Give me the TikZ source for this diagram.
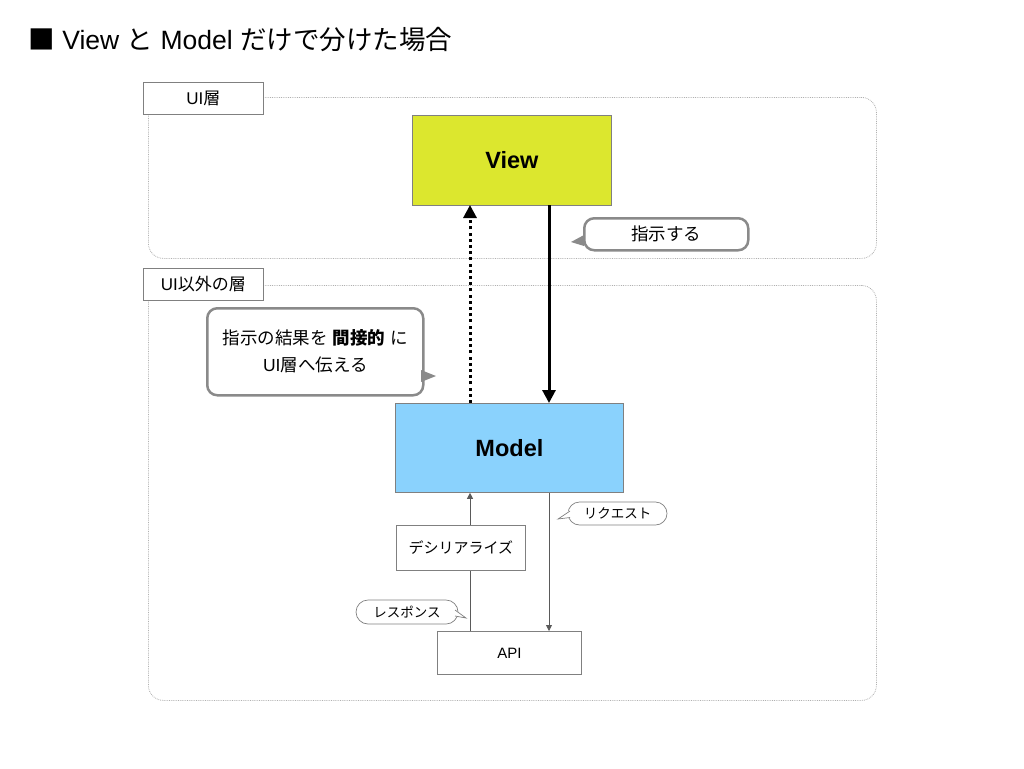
\documentclass[tikz,border=0pt]{standalone}
\usepackage{fontspec}
\setmainfont{Liberation Sans}
\newfontfamily\jp{Noto Sans CJK JP}
\usetikzlibrary{positioning,arrows.meta,shapes.misc}
\definecolor{viewcolor}{HTML}{DCE72E}
\definecolor{modelcolor}{HTML}{8AD2FD}
\definecolor{framecolor}{HTML}{B0B0B0}
\definecolor{boxline}{HTML}{808080}
\definecolor{calloutline}{HTML}{8A8A8A}
\definecolor{flowcolor}{HTML}{5A5A5A}

\begin{document}
\begin{tikzpicture}[
  x=1pt, y=-1pt,
  layer/.style={draw=framecolor, densely dotted, rounded corners=15pt, line width=0.8pt, anchor=north west, inner sep=0pt},
  layertag/.style={draw=boxline, fill=white, line width=0.8pt, anchor=north west, minimum width=120pt, minimum height=32pt, inner sep=0pt, font=\fontsize{17}{20}\selectfont},
  mainbox/.style={draw=boxline, line width=0.8pt, anchor=north west, inner sep=0pt, font=\fontsize{23.5}{28}\selectfont\bfseries},
  stepbox/.style={draw=boxline, fill=white, line width=0.8pt, anchor=north west, inner sep=0pt, font=\fontsize{15}{18}\selectfont},
  bubble/.style={draw=calloutline, fill=white, line width=2.5pt, rounded corners=10pt, anchor=north west, inner sep=0pt, align=center, font=\fontsize{17.5}{27}\selectfont},
  pill/.style={rounded rectangle, draw=boxline, fill=white, line width=0.7pt, inner sep=0pt, font=\fontsize{13.5}{16}\selectfont},
  bigarrow/.style={line width=3pt, -{Triangle[width=13pt,length=13pt]}},
  flow/.style={draw=flowcolor, line width=0.8pt, -{Triangle[width=6pt,length=6pt]}},
]
\useasboundingbox (0,0) rectangle (1024,768);

% Title
\node[anchor=west, font=\fontsize{26.5}{32}\selectfont] (title) at (25,40) {{\jp ■} View {\jp と} Model {\jp だけで分けた場合}};

% Layer frames
\node[layer, minimum width=728pt, minimum height=161pt] (uiframe) at (148,97) {};
\node[layer, minimum width=728pt, minimum height=415pt] (otherframe) at (148,285) {};
\node[layertag] (uitag) at (143,82) {UI{\jp 層}};
\node[layertag] (othertag) at (143,268) {UI{\jp 以外の層}};

% View and Model
\node[mainbox, fill=viewcolor, minimum width=199pt, minimum height=90pt] (view) at (412,115) {View};
\node[mainbox, fill=modelcolor, minimum width=228pt, minimum height=89pt] (model) at (395,403) {Model};

% Thick arrows between View and Model
\coordinate (vleft) at (470,205);
\coordinate (vright) at (549,205);
\draw[bigarrow, dash pattern=on 3pt off 3.2pt] (model.north -| vleft) -- (vleft);
\draw[bigarrow] (vright) -- (model.north -| vright);

% Callout: instruct
\node[bubble, minimum width=164pt, minimum height=32pt] (instruct) at (583,217) {\jp 指示する};
\fill[calloutline] (584,235) -- (571,242) -- (584,246) -- cycle;

% Callout: indirect result
\node[bubble, minimum width=216pt, minimum height=87pt] (indirect) at (206,307) {\raisebox{2pt}{{\jp 指示の結果を} {\jp\bfseries 間接的} {\jp に}}\\\raisebox{2pt}{UI{\jp 層へ伝える}}};
\fill[calloutline] (421,370) -- (436,376) -- (421,382) -- cycle;

% API side
\node[stepbox, minimum width=129pt, minimum height=45pt] (deser) at (396,525) {\jp デシリアライズ};
\node[stepbox, minimum width=144pt, minimum height=43pt] (api) at (437,631) {API};
\draw[draw=flowcolor, line width=0.8pt] (api.north -| vleft) -- (deser.south -| vleft);
\draw[flow] (deser.north -| vleft) -- (model.south -| vleft);
\draw[flow] (model.south -| vright) -- (api.north -| vright);

% Small pills
\node[pill, minimum width=99pt, minimum height=23pt] (request) at (617.5,513.5) {\jp リクエスト};
\fill[white] (570,510) -- (558,519) -- (570,518) -- cycle;
\draw[draw=boxline, line width=0.7pt] (570,511) -- (558,519) -- (570,517.5);
\node[pill, minimum width=102pt, minimum height=24pt] (response) at (407,612) {\jp レスポンス};
\fill[white] (455,609) -- (466,618) -- (455,616) -- cycle;
\draw[draw=boxline, line width=0.7pt] (455,610) -- (466,618) -- (455,616);

\end{tikzpicture}
\end{document}
